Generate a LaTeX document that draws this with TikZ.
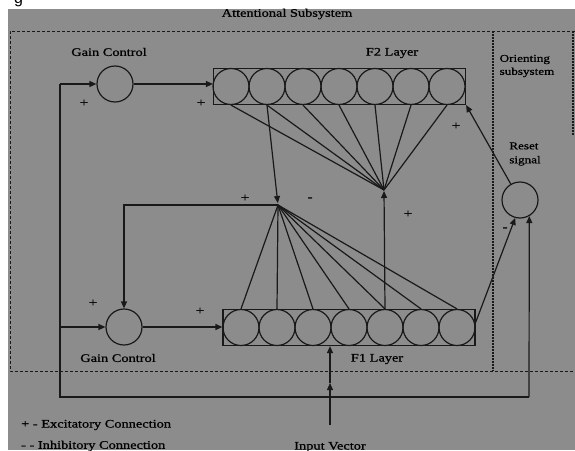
\documentclass[tikz,border=0pt]{standalone}
\usepackage{fontspec}
\setmainfont{Liberation Serif}
\newfontfamily\lbl[FakeStretch=1.25,FakeBold=0.8]{Liberation Serif}
\newfontfamily\sfg{Liberation Sans}
\usetikzlibrary{arrows.meta,calc}
\definecolor{bgc}{RGB}{140,140,140}
\definecolor{ink}{RGB}{25,25,25}
\begin{document}
\begin{tikzpicture}[x=1pt,y=-1pt,
  wire/.style={draw=ink,line width=1.2pt},
  arr/.style={wire,-{Triangle[length=7pt,width=6pt]}},
  gate/.style={circle,draw=ink,line width=1.2pt,minimum size=36pt,inner sep=0pt},
  cell/.style={circle,draw=ink,line width=1.2pt,minimum size=36pt,inner sep=0pt},
  layer/.style={draw=ink,line width=1.2pt,minimum width=252pt,minimum height=36pt,inner sep=0pt},
  lab/.style={font=\lbl\fontsize{11.5}{13}\selectfont,text=black,inner sep=0pt},
  slab/.style={font=\lbl\fontsize{10.5}{13}\selectfont,text=black,inner sep=0pt,align=left},
  sign/.style={font=\lbl\fontsize{12}{12}\selectfont,text=black,inner sep=0pt},
  bdash/.style={draw=ink,line width=1pt,dash pattern=on 3pt off 2pt},
  bdot/.style={draw=ink,line width=1.2pt,dash pattern=on 1.5pt off 1.5pt}]
\useasboundingbox (0,0) rectangle (575,450);
\fill[white] (0,0) rectangle (575,450);
\fill[bgc] (8,9) rectangle (575,450);
\node[font=\sfg\fontsize{16}{16}\selectfont,anchor=base west,inner sep=0pt] (g) at (14,3) {g};

% boxes
\draw[bdash] (575,31) -- (10,31) -- (10,371) -- (575,371);
\draw[bdot] (493,31) -- (493,371);
\draw[bdot] (573,31) -- (573,135);

% layers
\node[layer] (f2) at (339.5,86.5) {};
\node[layer] (f1) at (349,327.5) {};
\foreach \i in {1,...,7} {
  \node[cell] (a\i) at ({195+36*\i},86.5) {};
  \node[cell] (b\i) at ({205+36*\i},327.5) {};
}

% gates
\node[gate] (gc1) at (115,84) {};
\node[gate] (gc2) at (124,327) {};
\node[gate] (reset) at (520,200) {};

% points
\coordinate (p2) at (384,190);
\coordinate (p1) at (278,205);
\coordinate (l1) at (60,84);
\coordinate (l2) at (60,327);
\coordinate (l3) at (60,397);
\coordinate (l4) at (529,397);
\coordinate (iv0) at (330,425);
\coordinate (iv1) at (330,383);

% fans
\foreach \i in {1,...,7} {
  \draw[wire] (a\i.south) -- (p2);
  \draw[wire] (p1) -- (b\i.north);
}
\draw[arr,shorten >=2pt] (a2.south) -- (p1);
\draw[arr,shorten >=1pt] (b5.north) -- (p2);
\draw[arr] (p1) -| (gc2.north);

% gain paths
\draw[arr] (l1) -- (gc1.west);
\draw[arr] (gc1.east) -- (f2.west |- gc1.east);
\draw[arr] (l2) -- (gc2.west);
\draw[arr] (gc2.east) -- (f1.west |- gc2.east);
\draw[wire] (l1) -- (l3) -- (l4);
\draw[arr] (l4) -- (reset.300);

% reset
\draw[arr] ([yshift=5pt]f1.east) -- (reset.255);
\draw[arr] (reset.120) -- (f2.south east);

% input
\draw[arr] (iv0) -- (iv1);
\draw[arr] (iv1) -- (iv1 |- f1.south);

% labels
\node[lab] (att) at (287,14) {Attentional Subsystem};
\node[lab] (gct) at (109,52) {Gain Control};
\node[lab] (f2l) at (392,53) {F2 Layer};
\node[lab] (gcb) at (118,358) {Gain Control};
\node[lab] (f1l) at (377,359) {F1 Layer};
\node[slab] (ori) at (527,66) {Orienting\\subsystem};
\node[slab] (rst) at (525,154) {Reset\\[1pt]signal};
\node[lab,anchor=west] (lg1) at (21,425) {+ - Excitatory Connection};
\node[lab,anchor=west] (lg2) at (21,446) {- - Inhibitory Connection};
\node[lab] (ivl) at (330,447) {Input Vector};

% signs
\node[sign] (s1) at (84,103) {+};
\node[sign] (s2) at (201,103) {+};
\node[sign] (s3) at (456,126) {+};
\node[sign] (s4) at (245,198) {+};
\node[sign] (s5) at (310,199) {-};
\node[sign] (s6) at (408,214) {+};
\node[sign] (s7) at (93,303) {+};
\node[sign] (s8) at (200,311) {+};
\node[sign] (s9) at (505,229) {-};
\end{tikzpicture}
\end{document}
